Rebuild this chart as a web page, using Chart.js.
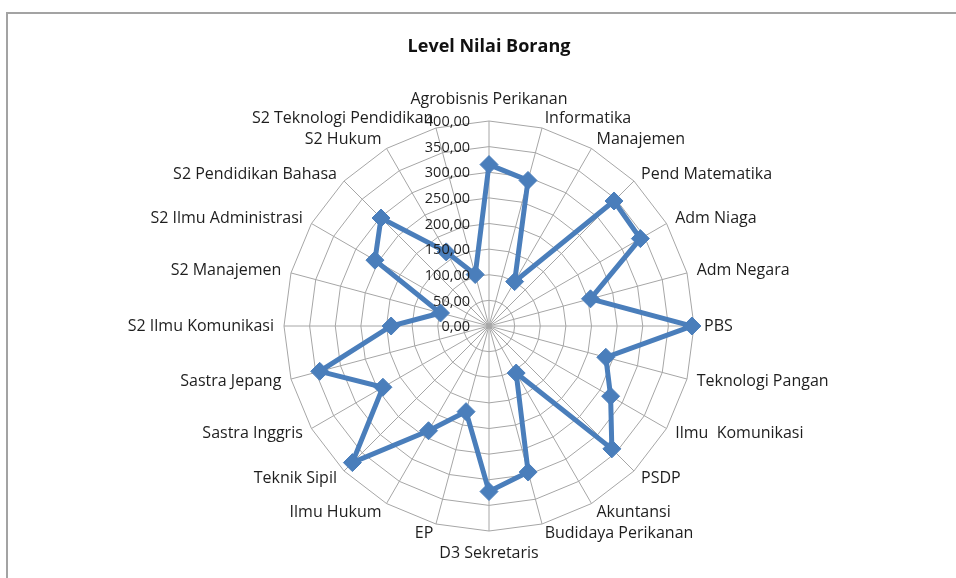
<!DOCTYPE html>
<html>
<head>
<meta charset="utf-8">
<script src="https://cdn.jsdelivr.net/npm/chart.js@4.4.1/dist/chart.umd.min.js"></script>
<style>
  html, body { margin: 0; padding: 0; background: #ffffff; }
  #wrap { position: relative; width: 956px; height: 578px; overflow: hidden; background: #ffffff; }
  #frame { position: absolute; left: 6px; top: 12px; width: 1000px; height: 700px;
           border-left: 2px solid #a3a3a3; border-top: 2px solid #a3a3a3; }
  canvas { position: absolute; left: 0; top: 0; }
</style>
</head>
<body>
<div id="wrap">
  <div id="frame"></div>
  <canvas id="c" width="956" height="578"></canvas>
</div>
<script>
const categories = [
  "Agrobisnis Perikanan", "Informatika", "Manajemen", "Pend Matematika", "Adm Niaga",
  "Adm Negara", "PBS", "Teknologi Pangan", "Ilmu  Komunikasi", "PSDP", "Akuntansi",
  "Budidaya Perikanan", "D3 Sekretaris", "EP", "Ilmu Hukum", "Teknik Sipil",
  "Sastra Inggris", "Sastra Jepang", "S2 Ilmu Komunikasi", "S2 Manajemen",
  "S2 Ilmu Administrasi", "S2 Pendidikan Bahasa", "S2 Hukum", "S2 Teknologi Pendidikan"
];
const nilaiBorang = [
  315, 294, 100, 345, 341, 205, 396, 236, 274, 339, 106, 295,
  323, 173, 236, 377, 239, 342, 191, 98, 257, 298, 167, 104
];
const tickValues = [0, 50, 100, 150, 200, 250, 300, 350, 400];
const chartTitle = "Level Nilai Borang";

const FONT = "'Open Sans', Lato, sans-serif";
const TEXT_COLOR = "#1e1e1e";

function fmt(v) { return v.toFixed(2).replace(".", ","); }

const labelPlugin = {
  id: "excelLabels",
  afterDraw(chart) {
    const scale = chart.scales.r;
    const ctx = chart.ctx;
    ctx.save();
    ctx.fillStyle = TEXT_COLOR;
    // tick labels, right-aligned left of the vertical axis
    ctx.font = "14.5px " + FONT;
    ctx.textAlign = "right";
    ctx.textBaseline = "middle";
    tickValues.forEach(v => {
      const p = scale.getPointPositionForValue(0, v);
      ctx.fillText(fmt(v), scale.xCenter - 19, p.y + 1);
    });
    // category labels
    ctx.font = "16px " + FONT;
    const n = categories.length;
    for (let i = 0; i < n; i++) {
      const deg = i * 360 / n;
      let off = 10;
      if (deg === 0 || deg === 180) off = 22;
      const p = scale.getPointPosition(i, scale.drawingArea + off);
      if (deg === 0 || deg === 180) ctx.textAlign = "center";
      else if (deg < 180) ctx.textAlign = "left";
      else ctx.textAlign = "right";
      ctx.textBaseline = "middle";
      ctx.fillText(categories[i], p.x, p.y);
    }
    ctx.restore();
  }
};

new Chart(document.getElementById("c"), {
  type: "radar",
  data: {
    labels: categories,
    datasets: [{
      label: "Nilai",
      data: nilaiBorang,
      borderColor: "#4a7ebb",
      backgroundColor: "#4a7ebb",
      borderWidth: 5,
      fill: false,
      pointStyle: "rectRot",
      pointRadius: 9,
      pointHoverRadius: 9,
      pointBackgroundColor: "#4a7ebb",
      pointBorderColor: "#4a7ebb",
      pointBorderWidth: 1,
      tension: 0
    }]
  },
  options: {
    responsive: false,
    animation: false,
    events: [],
    layout: { padding: { left: 100, right: 78, top: 0, bottom: 47 } },
    plugins: {
      legend: { display: false },
      tooltip: { enabled: false },
      title: {
        display: true,
        text: chartTitle,
        color: "#111",
        font: { family: FONT, size: 18, weight: "bold", lineHeight: 1.2 },
        padding: { top: 36.2, bottom: 63.2 }
      }
    },
    scales: {
      r: {
        min: 0,
        max: 400,
        beginAtZero: true,
        ticks: { display: false, stepSize: 50 },
        pointLabels: { display: false },
        grid: { color: "#a6a6a6", lineWidth: 1 },
        angleLines: { color: "#a6a6a6", lineWidth: 1 }
      }
    }
  },
  plugins: [labelPlugin]
});
</script>
</body>
</html>
